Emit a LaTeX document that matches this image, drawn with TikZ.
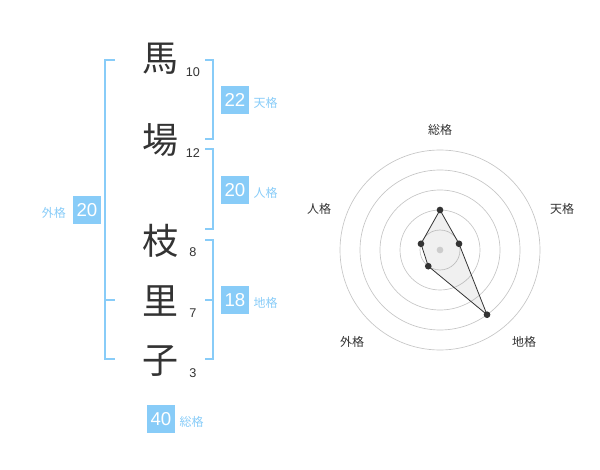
\documentclass[tikz,border=0pt]{standalone}
\usepackage{fontspec}
\setmainfont{Liberation Sans}
\newfontfamily\jpfont{Noto Sans CJK JP}
\usetikzlibrary{positioning}
\definecolor{kakublue}{HTML}{88CCF8}
\definecolor{inkgray}{HTML}{333333}

\begin{document}
\begin{tikzpicture}
                [x=0.75pt, y=0.75pt,
                kanji/.style={font=\jpfont\fontsize{27}{27}\selectfont, text=inkgray, inner sep=0pt},
                strokes/.style={font=\fontsize{9.5}{10}\selectfont, text=inkgray, inner sep=0pt, anchor=base},
                kakubox/.style={fill=kakublue, text=white, minimum size=21pt, inner sep=0pt,
                    font=\fontsize{14}{14}\selectfont},
                kakuname/.style={font=\jpfont\fontsize{9}{10}\selectfont, text=kakublue, inner sep=0pt},
                radarname/.style={font=\jpfont\fontsize{9}{10}\selectfont, text=inkgray, inner sep=0pt},
                brace/.style={draw=kakublue, line width=1.5pt},
                ring/.style={draw=gray!45, line width=0.5pt},
                dot/.style={circle, fill=inkgray, inner sep=0pt, minimum size=5pt},
                ]
                \useasboundingbox (0,0) rectangle (600,-470);

                % name and stroke counts
                \node[kanji] (k1) at (160,-59) {馬};
                \node[kanji] (k2) at (160,-140) {場};
                \node[kanji] (k3) at (160,-241) {枝};
                \node[kanji] (k4) at (160,-301) {里};
                \node[kanji] (k5) at (160,-361) {子};
                \node[strokes] (n1) at (193,-77) {10};
                \node[strokes] (n2) at (193,-158) {12};
                \node[strokes] (n3) at (193,-257) {8};
                \node[strokes] (n4) at (193,-318) {7};
                \node[strokes] (n5) at (193,-378) {3};

                % brackets
                \draw[brace] (115,-60) -- (105,-60) -- (105,-359) -- (115,-359)
                    (105,-300) -- (115,-300);
                \draw[brace] (205,-60) -- (213,-60) -- (213,-139) -- (205,-139);
                \draw[brace] (205,-149) -- (213,-149) -- (213,-229) -- (205,-229);
                \draw[brace] (205,-240) -- (213,-240) -- (213,-359) -- (205,-359)
                    (205,-300) -- (213,-300);

                % values
                \node[kakubox] (ten) at (235,-100) {22};
                \node[kakuname, right=3pt of ten, yshift=-2pt] (ten-name) {天格};
                \node[kakubox] (jin) at (235,-190) {20};
                \node[kakuname, right=3pt of jin, yshift=-2pt] (jin-name) {人格};
                \node[kakubox] (chi) at (235,-300) {18};
                \node[kakuname, right=3pt of chi, yshift=-2pt] (chi-name) {地格};
                \node[kakubox] (gai) at (87,-210) {20};
                \node[kakuname, left=5pt of gai, yshift=-2pt] (gai-name) {外格};
                \node[kakubox] (sou) at (161,-419) {40};
                \node[kakuname, right=3pt of sou, yshift=-2pt] (sou-name) {総格};

                % radar chart
                \coordinate (C) at (440,-250);
                \foreach \r in {20,40,60,80,100}
                    \draw[ring] (C) circle (\r);
                \path (C) ++(90:40) coordinate (P1)
                      (C) ++(18:20) coordinate (P2)
                      (C) ++(-54:80) coordinate (P3)
                      (C) ++(-126:20) coordinate (P4)
                      (C) ++(162:20) coordinate (P5);
                \filldraw[fill=gray, fill opacity=0.12, draw=inkgray, line width=0.6pt]
                    (P1) -- (P2) -- (P3) -- (P4) -- (P5) -- cycle;
                \node[circle, fill=gray!40, inner sep=0pt, minimum size=5pt] at (C) {};
                \foreach \p in {P1,P2,P3,P4,P5}
                    \node[dot] at (\p) {};

                \node[radarname] (r-sou) at (440,-130) {総格};
                \node[radarname] (r-ten) at (562,-209) {天格};
                \node[radarname] (r-chi) at (524,-342) {地格};
                \node[radarname] (r-gai) at (352,-342) {外格};
                \node[radarname] (r-jin) at (319,-209) {人格};
            \end{tikzpicture}
\end{document}
